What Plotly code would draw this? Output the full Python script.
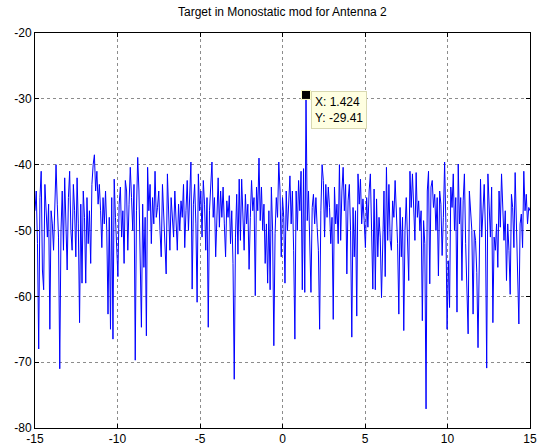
import numpy as np
import plotly.graph_objects as go

# Signal level (dB) sampled on a uniform grid from -15 to 15
y_values = [
    # -15 .. -11.1
    -47, -44, -52, -68, -45, -41, -56, -59, -43, -48,
    -51, -46, -65, -47, -49, -53, -44, -40, -46, -51,
    -71, -50, -44, -53, -42, -48, -56, -45, -41, -50,
    -53, -43, -47, -54, -42, -49, -64, -46, -58, -44,
    -48, -58, -45, -52, -47, -55, -43, -40, -38.5, -44,
    -41, -46, -43,
    # segment 2
    -47, -52.6, -45, -49, -44, -50, -62.7, -48, -65, -45,
    -66.5, -42.2, -48, -52, -57, -46, -43.4, -51, -47, -55,
    -42.4, -44, -53, -46, -40.4, -45, -50, -43, -69.7, -47,
    -38.9, -44, -55, -64.7, -46, -55.6, -48, -66, -40.4, -47,
    -43, -52, -45, -49, -41, -48, -46.5, -44, -50,
    # segment 3
    -54, -43, -47, -51, -56.6, -41.4, -47, -53, -45, -49,
    -51, -44, -48, -53, -46, -50, -45.5, -48, -43, -52.6,
    -47, -42.4, -50, -44, -39.6, -58.9, -46, -43, -49, -60.9,
    -41.4, -47, -44, -51, -42.4, -46, -53, -45, -64.7, -47,
    -43, -39.6, -48, -45, -54, -46, -42, -49.5, -44, -48,
    # segment 4
    -43.4, -49, -54, -45.5, -48, -44.7, -52, -47, -55, -72.6,
    -51, -44.5, -53.6, -42.2, -51.5, -42.2, -48, -53, -44.5, -49,
    -46, -55.9, -48, -42.4, -47, -45, -59.9, -43.4, -47, -39,
    -48.5, -43.4, -50, -46, -55, -49, -58, -47, -59, -43.4,
    -50, -67.5, -50.5, -45, -48, -39.6, -44, -54, -45, -48,
    # segment 5
    -58, -44, -50, -45, -41.7, -49, -44, -53, -66.5, -44,
    -50, -42.4, -47, -41, -59, -40.6, -59.4, -29.41, -48.5, -44,
    -52, -59.4, -46.5, -44.5, -49, -45, -49.5, -53, -65, -47,
    -40, -42.4, -51, -43, -48, -43.4, -46.5, -52, -48, -63.5,
    -43.4, -49, -46, -52, -40, -51.5, -44, -40.4, -47, -43,
    # segment 6
    -56.6, -45.5, -43, -50, -66.2, -46.5, -54, -47, -63, -41.4,
    -46, -42.2, -49, -45.2, -48.5, -52.6, -45, -49.5, -44, -41.4,
    -50, -58.9, -43.7, -59, -45.2, -54, -48, -51, -60.2, -49,
    -44, -57, -40.4, -51.5, -43, -51.5, -53, -45.5, -48, -42.4,
    -48.5, -52, -62.7, -46.5, -54, -48, -65.2, -50, -45, -53,
    # segment 7
    -57.6, -41, -46.5, -41.4, -46, -51.5, -41.2, -48, -45.5, -50,
    -47, -63.7, -48.5, -52, -77.1, -44, -41, -58.1, -43.4, -42.4,
    -46.5, -44.5, -50, -45, -56.9, -44, -46, -53.8, -48, -39.6,
    -48.8, -65, -54.6, -61.7, -43.4, -46.5, -41.4, -50, -45, -62.4,
    -39.9, -49, -45, -57.6, -45.5, -41.4, -52, -59.4, -65.7, -44,
    # segment 8
    -46.5, -50, -62.7, -50, -51.5, -56.4, -67.8, -53, -42.2, -51,
    -45.5, -43, -50, -70.9, -41.4, -46.5, -51, -43.4, -64, -51,
    -53, -49, -55.6, -44, -49.5, -41.4, -45.5, -51.5, -47, -57.6,
    -49, -53, -59.7, -44.5, -46.5, -52.6, -41.2, -48, -55, -64.2,
    -49, -47.5, -52.6, -41, -47, -44.5, -49, -46.5, -47,
]

x_range = [-15, 15]
y_range = [-80, -20]
x_ticks = [-15, -10, -5, 0, 5, 10, 15]
x_tick_labels = ["-15", "-10", "-5", "0", "5", "10", "15"]
y_ticks = [-80, -70, -60, -50, -40, -30, -20]
y_tick_labels = ["-80", "-70", "-60", "-50", "-40", "-30", "-20"]
tip_x_label = "1.424"
tip_y_label = "-29.41"

x_values = np.linspace(x_range[0], x_range[1], len(y_values))
peak = int(np.argmax(y_values))

FONT = "Liberation Sans, Arial, sans-serif"

fig = go.Figure()
fig.add_trace(go.Scatter(
    x=x_values, y=y_values, mode="lines",
    line=dict(color="#0000FF", width=1), showlegend=False, hoverinfo="x+y",
))
fig.add_trace(go.Scatter(
    x=[x_values[peak]], y=[y_values[peak]], mode="markers",
    marker=dict(symbol="square", size=9, color="black",
                line=dict(color="#FFFFC8", width=1)),
    showlegend=False, hoverinfo="skip",
))
fig.add_annotation(
    x=x_values[peak] + 0.3, y=y_values[peak] + 0.6, xref="x", yref="y",
    xanchor="left", yanchor="top", showarrow=False, align="left",
    text=f"X: {tip_x_label}<br>Y: {tip_y_label}",
    font=dict(family=FONT, size=12, color="black"),
    bgcolor="#FFFFE1", bordercolor="#D8D8B0", borderwidth=1, borderpad=3,
)

axis_common = dict(
    showgrid=True, gridcolor="#8C8C8C", griddash="dot", gridwidth=1,
    showline=True, linecolor="black", linewidth=1, mirror="ticks",
    ticks="inside", ticklen=4, tickcolor="black", zeroline=False,
    automargin=False,
    tickfont=dict(family=FONT, size=12, color="black"),
)
fig.update_xaxes(range=x_range, tickvals=x_ticks, ticktext=x_tick_labels, **axis_common)
fig.update_yaxes(range=y_range, tickvals=y_ticks, ticktext=y_tick_labels, **axis_common)

fig.update_layout(
    width=541, height=448,
    margin=dict(l=35, r=11, t=33, b=20),
    paper_bgcolor="white", plot_bgcolor="white",
    title=dict(text="Target in Monostatic mod for Antenna 2",
               font=dict(family=FONT, size=12, color="black"),
               x=0.522, xanchor="center", y=1 - 12 / 448, yanchor="middle", yref="container"),
)

fig.write_html("out.html", config={"displayModeBar": False},
               post_script="document.body.style.margin='0';document.body.style.overflow='hidden';")
